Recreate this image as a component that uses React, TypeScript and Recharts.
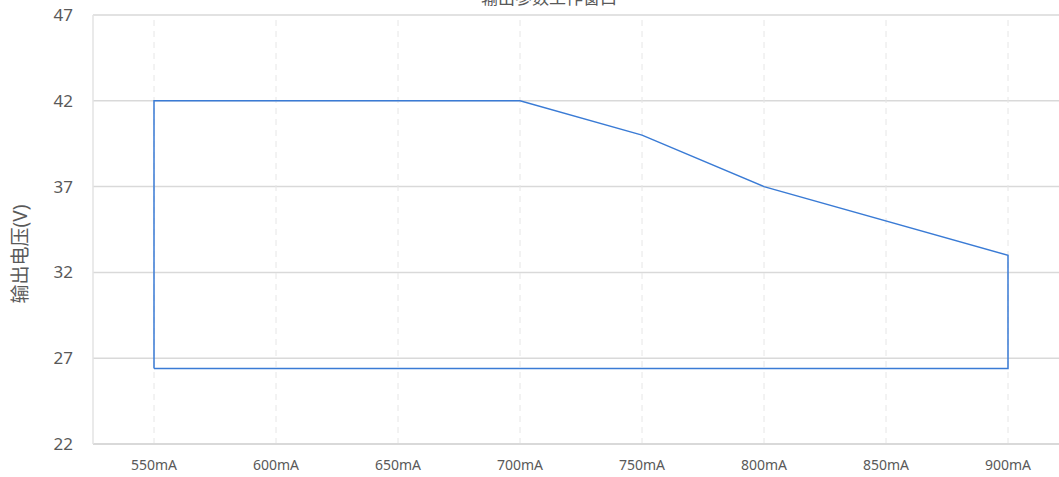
import { LineChart, Line, XAxis, YAxis, CartesianGrid, ReferenceLine } from 'recharts';

// operating window outline, walked in order (closed polygon)
const currents = [550, 550, 700, 750, 800, 900, 900, 550];
const voltages = [26.4, 42, 42, 40, 37, 33, 26.4, 26.4];

const xTicks = [550, 600, 650, 700, 750, 800, 850, 900];
const yTicks = [22, 27, 32, 37, 42, 47];

const title = '输出参数工作窗口';
const yLabel = '输出电压(V)';

const data = currents.map((c, i) => ({ current: c, voltage: voltages[i] }));

const FONT = '"Noto Sans", "Noto Sans CJK SC", sans-serif';
const TICK = '#595959';

export default function App() {
    return (
        <div style={{ position: 'fixed', left: 0, top: 0, width: 1059, height: 477, overflow: 'hidden', background: '#fff', fontFamily: FONT }}>
            <LineChart
                width={1080}
                height={477}
                data={data}
                margin={{ top: 15, right: 11, left: 0, bottom: 3 }}
            >
                <CartesianGrid vertical={false} stroke="#d9d9d9" strokeWidth={1.5} />
                {xTicks.map((t) => (
                    <ReferenceLine key={t} x={t} stroke="#e6e6e6" strokeDasharray="6 5" strokeWidth={1} />
                ))}
                <XAxis
                    dataKey="current"
                    type="number"
                    domain={[525, 925]}
                    ticks={xTicks}
                    allowDataOverflow
                    height={30}
                    tickFormatter={(v) => `${v}mA`}
                    axisLine={{ stroke: '#d9d9d9', strokeWidth: 2 }}
                    tickLine={false}
                    tickSize={0}
                    tickMargin={16}
                    tick={{ fill: TICK, fontSize: 14, fontFamily: FONT }}
                />
                <YAxis
                    type="number"
                    domain={[22, 47]}
                    ticks={yTicks}
                    width={93}
                    axisLine={{ stroke: '#e3e3e3', strokeWidth: 1.5 }}
                    tickLine={false}
                    tickSize={0}
                    tickMargin={20}
                    tick={{ fill: TICK, fontSize: 17, fontFamily: FONT }}
                />
                <Line
                    type="linear"
                    dataKey="voltage"
                    stroke="#3a7bd5"
                    strokeWidth={1.5}
                    dot={false}
                    activeDot={false}
                    isAnimationActive={false}
                />
            </LineChart>
            {/* title sits mostly above the visible frame, as in the source; y label on the left */}
            <svg width={1059} height={477} style={{ position: 'absolute', left: 0, top: 0, pointerEvents: 'none' }}>
                <text x={549} y={4} textAnchor="middle" fontSize={17} fill={TICK} fontFamily={FONT}>
                    {title}
                </text>
                <text
                    x={20}
                    y={254}
                    textAnchor="middle"
                    dominantBaseline="central"
                    fontSize={19}
                    fill={TICK}
                    fontFamily={FONT}
                    transform="rotate(-90 20 254)"
                >
                    {yLabel}
                </text>
            </svg>
        </div>
    );
}
